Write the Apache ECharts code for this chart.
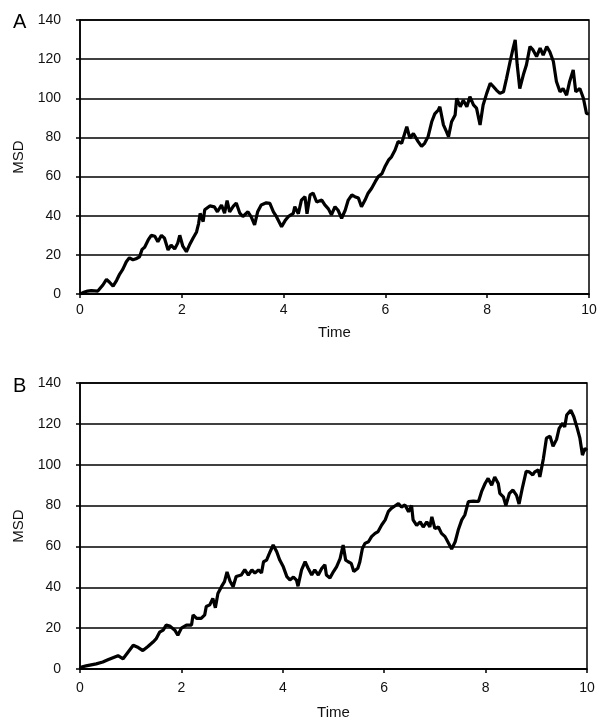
<!DOCTYPE html>
<html>
<head>
<meta charset="utf-8">
<script src="https://cdn.jsdelivr.net/npm/echarts@6/dist/echarts.min.js"></script>
<style>
html,body{margin:0;padding:0;background:#fff;}
#c{width:601px;height:723px;}
</style>
</head>
<body>
<div id="c"></div>
<script>
const panelLabels = ['A', 'B'];
const xTicks = [0, 2, 4, 6, 8, 10];
const yTicks = [0, 20, 40, 60, 80, 100, 120, 140];

const timeA = [0,0.06,0.15,0.22,0.35,0.45,0.52,0.58,0.65,0.72,0.78,0.84,0.91,0.97,1.04,1.10,1.17,1.22,1.27,1.34,1.40,1.47,1.53,1.60,1.66,1.73,1.79,1.86,1.92,1.96,2.02,2.09,2.15,2.22,2.29,2.33,2.36,2.42,2.45,2.55,2.64,2.70,2.78,2.84,2.89,2.94,3.01,3.07,3.14,3.20,3.30,3.36,3.43,3.49,3.56,3.66,3.73,3.80,3.86,3.96,4.03,4.09,4.19,4.22,4.29,4.35,4.42,4.46,4.52,4.58,4.65,4.75,4.81,4.88,4.94,5.01,5.07,5.14,5.21,5.27,5.34,5.40,5.47,5.53,5.60,5.66,5.73,5.80,5.86,5.93,5.99,6.06,6.12,6.19,6.25,6.32,6.42,6.48,6.55,6.64,6.71,6.77,6.84,6.91,6.97,7.04,7.07,7.14,7.20,7.24,7.30,7.37,7.40,7.47,7.53,7.60,7.66,7.73,7.79,7.86,7.92,7.99,8.06,8.12,8.18,8.25,8.32,8.38,8.45,8.51,8.55,8.59,8.64,8.71,8.77,8.84,8.90,8.97,9.04,9.10,9.17,9.23,9.30,9.36,9.43,9.49,9.56,9.62,9.69,9.74,9.82,9.89,9.95,10];
const msdA = [0,0.7,1.5,1.7,1.5,4.6,7.5,6,4,7,10.2,12.6,16.5,18.5,17.5,18,19,22.8,23.9,27.6,30,29.5,26.7,30,28.5,22.5,25,23,26,30,24.4,21.6,25,28.5,31.7,36,41.2,37,43,45,44.5,42,45.5,41.3,47.7,42,44.8,46.5,41.3,39.6,42,39.6,35.3,42,45.5,46.6,46.3,42,39.5,34.4,37.5,39.5,41.2,44.6,41,48,49.7,41,50.6,51.5,47,48,45.5,43.5,40.5,44.6,42.8,38.7,42.8,48,50.6,49.7,49,44.6,48,51.5,54,57.4,60,61.4,65,68.4,70.1,73.6,77.9,77,85.5,79.6,82,78,75.4,77,80.5,88,92,94,95.7,86.4,83,80.4,88,91.5,100,95.7,99,95.7,100.8,96.6,95,86.4,96.6,102.5,107.7,106,104.2,102.5,103.3,110.2,118.8,125.6,129.8,117,105,112,117,126.4,124.7,121.3,125.6,122,126.4,123.8,118.8,108.6,103.3,105,101.6,108.6,114.5,103.3,105,100,92.3,92];

const timeB = [0,0.03,0.12,0.22,0.32,0.45,0.55,0.65,0.75,0.85,0.95,1.05,1.15,1.24,1.34,1.44,1.50,1.57,1.64,1.70,1.77,1.87,1.93,2.00,2.10,2.20,2.23,2.30,2.39,2.46,2.49,2.56,2.62,2.67,2.72,2.79,2.85,2.90,2.96,3.02,3.08,3.18,3.25,3.32,3.39,3.45,3.52,3.58,3.62,3.68,3.75,3.81,3.88,3.94,4.01,4.08,4.14,4.21,4.27,4.30,4.37,4.44,4.50,4.57,4.63,4.70,4.77,4.83,4.86,4.93,5.00,5.06,5.13,5.19,5.24,5.29,5.35,5.40,5.48,5.52,5.57,5.62,5.69,5.75,5.82,5.88,5.95,6.02,6.08,6.14,6.21,6.28,6.34,6.41,6.48,6.54,6.57,6.64,6.71,6.77,6.84,6.90,6.94,7.00,7.07,7.13,7.20,7.27,7.33,7.40,7.46,7.53,7.59,7.66,7.76,7.86,7.92,7.99,8.05,8.12,8.18,8.25,8.28,8.35,8.40,8.47,8.54,8.61,8.66,8.73,8.80,8.86,8.93,8.97,9.04,9.07,9.14,9.20,9.27,9.33,9.40,9.45,9.52,9.56,9.60,9.68,9.74,9.80,9.86,9.91,9.96,10];
const msdB = [0,1,1.5,2,2.5,3.4,4.5,5.5,6.5,5,8.3,11.6,10.5,9,11,13.2,14.7,18,19,21.5,21,19,16.5,20,21.5,21.5,26.5,24.8,24.8,26.5,30.6,31.4,34.6,30,37,40.3,42.8,47.5,43,40.3,45.3,46,48.6,46,48.5,46.9,48.5,47,52.5,53.3,57.4,60.7,57.4,53.3,50,45.2,43.6,45,43.5,40.5,48.5,52.5,49.3,46,48.5,46,49.3,51,46,44.6,47.7,50,54,60.7,53.3,52.5,51.7,47.7,49.3,52.5,59,61.5,62.3,64.8,66.4,67.3,70.5,73,77,78.6,79.8,81,79.3,80.3,77,80,73,70.3,72,69.5,72,69.5,74.5,68.7,69.5,66.4,64.8,61.5,58.7,62.3,68,73,75.4,81.9,82.2,82,86.8,90.8,93.3,90,94,90.8,86,84.3,80,86,87.6,85,80.8,89.2,96.7,96.5,95,96.5,97.5,94,103,113,114,109,112.4,117.8,120.3,118.5,124.3,126.7,123.5,118.5,113,104.7,108,107];

const FONT = 'Liberation Sans, Arial, Helvetica, sans-serif';
const chart = echarts.init(document.getElementById('c'), null, {renderer: 'canvas'});

function xAxisCfg(gi, labelMargin, nameGap) {
  return {
    gridIndex: gi, type: 'value', min: xTicks[0], max: xTicks[xTicks.length - 1], interval: 2,
    name: 'Time', nameLocation: 'middle', nameGap: nameGap,
    nameTextStyle: {fontFamily: FONT, fontSize: 15, color: '#111'},
    axisLine: {show: true, lineStyle: {color: '#000', width: 1.5}},
    axisTick: {show: true, length: 4, lineStyle: {color: '#000', width: 1.5}},
    axisLabel: {fontFamily: FONT, fontSize: 14, color: '#111', margin: labelMargin},
    splitLine: {show: false}
  };
}
function yAxisCfg(gi) {
  return {
    gridIndex: gi, type: 'value', min: yTicks[0], max: yTicks[yTicks.length - 1], interval: 20,
    name: 'MSD', nameLocation: 'middle', nameGap: 52, nameRotate: 90,
    nameTextStyle: {fontFamily: FONT, fontSize: 15, color: '#111'},
    axisLine: {show: true, lineStyle: {color: '#000', width: 1.5}},
    axisTick: {show: true, length: 4, lineStyle: {color: '#000', width: 1.5}},
    axisLabel: {fontFamily: FONT, fontSize: 14, color: '#111', margin: 19},
    splitLine: {show: true, lineStyle: {color: '#000', width: 1.5}}
  };
}

chart.setOption({
  animation: false,
  backgroundColor: '#fff',
  title: [
    {text: panelLabels[0], left: 8, top: 7, textStyle: {fontFamily: FONT, fontSize: 20, fontWeight: 'normal', color: '#000'}},
    {text: panelLabels[1], left: 8, top: 371, textStyle: {fontFamily: FONT, fontSize: 20, fontWeight: 'normal', color: '#000'}}
  ],
  grid: [
    {left: 80, top: 20, width: 509, height: 274, show: true, borderColor: '#000', borderWidth: 1.5, backgroundColor: 'transparent'},
    {left: 80, top: 383, width: 507, height: 286, show: true, borderColor: '#000', borderWidth: 1.5, backgroundColor: 'transparent'}
  ],
  xAxis: [xAxisCfg(0, 9, 31), xAxisCfg(1, 12, 36)],
  yAxis: [yAxisCfg(0), yAxisCfg(1)],
  series: [
    {type: 'line', xAxisIndex: 0, yAxisIndex: 0, showSymbol: false, symbol: 'none',
     lineStyle: {color: '#000', width: 3.2}, data: timeA.map((t, i) => [t, msdA[i]])},
    {type: 'line', xAxisIndex: 1, yAxisIndex: 1, showSymbol: false, symbol: 'none',
     lineStyle: {color: '#000', width: 3.2}, data: timeB.map((t, i) => [t, msdB[i]])}
  ]
});
</script>
</body>
</html>
